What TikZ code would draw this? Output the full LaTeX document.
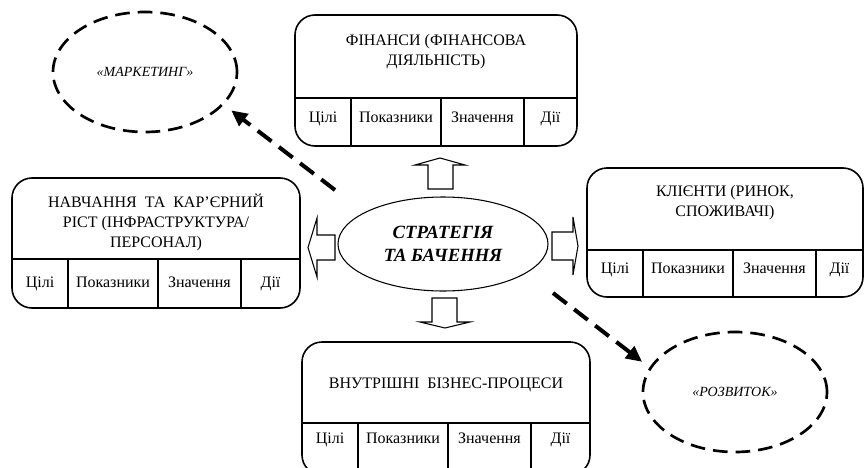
\documentclass[tikz,border=0pt]{standalone}
\usepackage{fontspec}
\setmainfont{Liberation Serif}
\usepackage{tikz}
\usetikzlibrary{arrows.meta}
\usetikzlibrary{shapes.geometric}

% #1 name, #2 x0, #3 y0, #4 x1, #5 y1, #6 row line, #7 title y, #8 title, #9 cell y
\newcommand{\bsccard}[9]{%
  \draw [cardframe] (#2,#3) rectangle (#4,#5);
  \draw [cardline] (#2,#6) -- (#4,#6);
  \draw [cardline] ({#2+56},#6) -- ({#2+56},#5);
  \draw [cardline] ({#2+146},#6) -- ({#2+146},#5);
  \draw [cardline] ({#2+229},#6) -- ({#2+229},#5);
  \node [cardtitle] (#1) at ({(#2+#4)/2},#7) {#8};
  \node [celltext] (#1-goal) at ({#2+28},#9) {Цілі};
  \node [celltext] (#1-ind) at ({#2+101},#9) {Показники};
  \node [celltext] (#1-val) at ({#2+187.5},#9) {Значення};
  \node [celltext] (#1-act) at ({(#2+229+#4)/2},#9) {Дії};
}

\begin{document}
\begin{tikzpicture}[x=0.75pt,y=-0.75pt,
    cardframe/.style={line width=1.2pt,rounded corners=15pt},
    cardline/.style={line width=0.9pt},
    cardtitle/.style={align=center,inner sep=0pt,font=\fontsize{12}{15}\selectfont},
    celltext/.style={inner sep=0pt,text height=8.5pt,text depth=2.5pt,font=\fontsize{12}{15}\selectfont},
    blockarrow/.style={draw,fill=white,line width=0.8pt,line join=miter},
    goalellipse/.style={ellipse,draw,line width=2pt,dash pattern=on 11pt off 6pt,
      minimum width=138pt,minimum height=90pt,outer sep=8pt,
      font=\fontsize{10.5}{12}\selectfont\itshape},
    dasharrow/.style={line width=3pt,dash pattern=on 13pt off 7pt,
      -{Triangle[length=12pt,width=11pt]}}]
            \useasboundingbox (0,0) rectangle (865,468);

            \bsccard{fin}{295}{15}{577}{146}{98}{52}{ФІНАНСИ (ФІНАНСОВА\\ДІЯЛЬНІСТЬ)}{118}
            \bsccard{learn}{12}{178}{300}{308}{259}{222}{НАВЧАННЯ \ ТА \ КАР’ЄРНИЙ\\РІСТ (ІНФРАСТРУКТУРА/\\ПЕРСОНАЛ)}{283}
            \bsccard{cust}{587}{168}{863}{297}{250}{203}{КЛІЄНТИ (РИНОК,\\СПОЖИВАЧІ)}{269}
            \bsccard{proc}{302}{342}{590}{475}{423}{385}{ВНУТРІШНІ \ БІЗНЕС-ПРОЦЕСИ}{439}

            \node [ellipse,draw,line width=0.8pt,minimum width=157.5pt,minimum height=70.5pt,
              align=center,font=\fontsize{14}{17}\selectfont\bfseries\itshape]
              (strat) at (443,244) {СТРАТЕГІЯ\\ТА БАЧЕННЯ};

            %%%% block arrows
            \draw [blockarrow] (428,189)--(428,165)--(415,165)--(440,158)--(465,165)--(453,165)--(453,189)--cycle;
            \draw [blockarrow] (432,298)--(457,298)--(457,322)--(470,322)--(445,328)--(420,322)--(432,322)--cycle;
            \draw [blockarrow] (335,235)--(317,235)--(317,218)--(308,247.5)--(317,277)--(317,260)--(335,260)--cycle;
            \draw [blockarrow] (552,232)--(573,232)--(573,217)--(578,246)--(573,275)--(573,260)--(552,260)--cycle;

            \node [goalellipse] (mark) at (145,72) {«МАРКЕТИНГ»};
            \node [goalellipse] (dev) at (735,392) {«РОЗВИТОК»};

            \coordinate (mstart) at (335,190);
            \coordinate (dstart) at (553,293);
            \draw [dasharrow] (mstart) -- (mark.-24);
            \draw [dasharrow] (dstart) -- (dev.162);
        \end{tikzpicture}
\end{document}
